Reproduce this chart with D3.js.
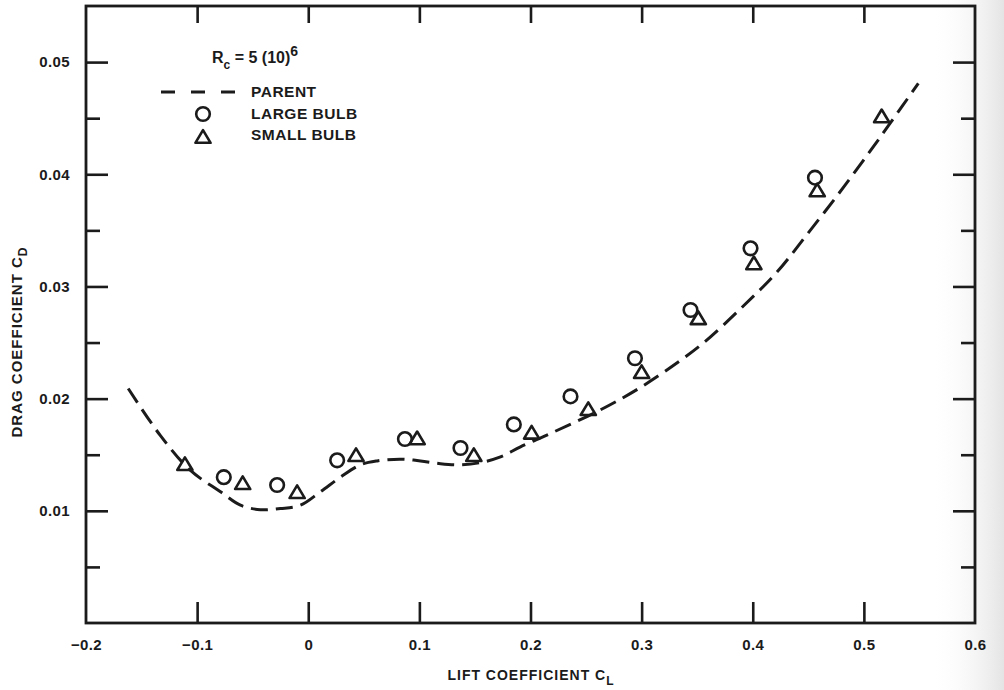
<!DOCTYPE html>
<html>
<head>
<meta charset="utf-8">
<script src="https://cdn.jsdelivr.net/npm/d3@7"></script>
<style>
  html, body { margin: 0; padding: 0; background: #fff; }
  svg { display: block; font-family: "Liberation Sans", Arial, Helvetica, sans-serif; }
  .lbl { font-weight: bold; fill: #1b1b1b; }
</style>
</head>
<body>
<svg id="chart" width="1004" height="690"></svg>
<script>
// Drag polar of the parent hull and the two bulb variants, Rc = 5 (10)^6

// Tick values
const xTickValues = [-0.2, -0.1, 0, 0.1, 0.2, 0.3, 0.4, 0.5, 0.6];
const yMajorTicks = [0.01, 0.02, 0.03, 0.04, 0.05];
const yMinorTicks = [0.005, 0.015, 0.025, 0.035, 0.045];

// Parent curve (lift coefficient, drag coefficient)
const parentCL = [-0.162, -0.133, -0.106, -0.079, -0.061, -0.043, -0.025, -0.007, 0.011, 0.029,
                  0.047, 0.062, 0.083, 0.101, 0.119, 0.137, 0.155, 0.173, 0.191, 0.218,
                  0.263, 0.299, 0.332, 0.356, 0.392, 0.422, 0.447, 0.476, 0.503, 0.524, 0.549];
const parentCD = [0.0209, 0.0167, 0.0136, 0.0117, 0.0105, 0.0101, 0.0102, 0.0105, 0.0117, 0.0130,
                  0.0141, 0.01445, 0.0146, 0.01445, 0.0142, 0.0141, 0.0143, 0.0148, 0.0157, 0.0169,
                  0.0190, 0.0210, 0.0232, 0.0250, 0.0283, 0.0313, 0.0344, 0.0381, 0.0417, 0.0446, 0.0481];

// Large bulb (circles)
const largeCL = [-0.076, -0.028, 0.026, 0.087, 0.137, 0.185, 0.236, 0.294, 0.344, 0.398, 0.456];
const largeCD = [0.0130, 0.0123, 0.0145, 0.0164, 0.0156, 0.0177, 0.0202, 0.0236, 0.0279, 0.0334, 0.0397];

// Small bulb (triangles)
const smallCL = [-0.111, -0.059, -0.010, 0.043, 0.098, 0.149, 0.201, 0.252, 0.300, 0.351, 0.401, 0.458, 0.516];
const smallCD = [0.0142, 0.0125, 0.0117, 0.0150, 0.0165, 0.0150, 0.0170, 0.0191, 0.0224, 0.0272, 0.0321, 0.0386, 0.0452];

const ink = "#1b1b1b";
const svg = d3.select("#chart");

// soft grey shading toward the right edge of the sheet
const defs = svg.append("defs");
const grad = defs.append("linearGradient").attr("id", "edge").attr("x1", 0).attr("x2", 1).attr("y1", 0).attr("y2", 0);
grad.append("stop").attr("offset", "0%").attr("stop-color", "#fff").attr("stop-opacity", 0);
grad.append("stop").attr("offset", "100%").attr("stop-color", "#e4e4e4").attr("stop-opacity", 1);
svg.append("rect").attr("x", 930).attr("y", 0).attr("width", 74).attr("height", 690).attr("fill", "url(#edge)");

const plotL = 86, plotR = 975, plotT = 6, plotB = 623;
const x = d3.scaleLinear().domain([-0.2, 0.6]).range([plotL, plotR]);
const y = d3.scaleLinear().domain([0, 0.055]).range([plotB, plotT]);

const fmtX = d => d === 0 ? "0" : d3.format(".1f")(d);
const fmtY = d3.format(".2f");

function styleAxis(g, showText) {
  g.select(".domain").remove();
  g.selectAll(".tick line").attr("stroke", ink).attr("stroke-width", 2.6);
  g.selectAll(".tick text")
    .attr("class", "lbl")
    .attr("fill", ink)
    .style("font-size", "15px")
    .style("letter-spacing", "0.4px")
    .style("display", showText ? null : "none");
}

// left axis: major ticks with labels, minor ticks inward
svg.append("g").attr("transform", `translate(${plotL},0)`)
  .call(d3.axisLeft(y).tickValues(yMajorTicks).tickSize(-22).tickPadding(16).tickFormat(fmtY))
  .call(g => styleAxis(g, true));
svg.append("g").attr("transform", `translate(${plotL},0)`)
  .call(d3.axisLeft(y).tickValues(yMinorTicks).tickSize(-14).tickFormat(""))
  .call(g => styleAxis(g, false));

// right axis
svg.append("g").attr("transform", `translate(${plotR},0)`)
  .call(d3.axisRight(y).tickValues(yMajorTicks).tickSize(-22).tickFormat(""))
  .call(g => styleAxis(g, false));
svg.append("g").attr("transform", `translate(${plotR},0)`)
  .call(d3.axisRight(y).tickValues(yMinorTicks).tickSize(-14).tickFormat(""))
  .call(g => styleAxis(g, false));

// bottom axis with labels
const gx = svg.append("g").attr("transform", `translate(0,${plotB})`)
  .call(d3.axisBottom(x).tickValues(xTickValues).tickSize(-21).tickPadding(16).tickFormat(fmtX))
  .call(g => styleAxis(g, true));
gx.selectAll(".tick").filter(d => d === -0.2 || d === 0.6).select("line").remove();

// top axis ticks
const gt = svg.append("g").attr("transform", `translate(0,${plotT})`)
  .call(d3.axisTop(x).tickValues(xTickValues).tickSize(-17).tickFormat(""))
  .call(g => styleAxis(g, false));
gt.selectAll(".tick").filter(d => d === -0.2 || d === 0.6).select("line").remove();

// frame
svg.append("rect")
  .attr("x", plotL).attr("y", plotT)
  .attr("width", plotR - plotL).attr("height", plotB - plotT)
  .attr("fill", "none").attr("stroke", ink).attr("stroke-width", 2.8);

// axis titles
const xt = svg.append("text").attr("class", "lbl")
  .attr("x", 531).attr("y", 680).attr("text-anchor", "middle")
  .style("font-size", "14px").style("letter-spacing", "1px");
xt.append("tspan").text("LIFT COEFFICIENT C");
xt.append("tspan").attr("dy", 5).style("font-size", "12px").text("L");

const yt = svg.append("text").attr("class", "lbl")
  .attr("transform", "translate(22,342) rotate(-90)")
  .attr("text-anchor", "middle")
  .style("font-size", "15px").style("letter-spacing", "1px");
yt.append("tspan").text("DRAG COEFFICIENT C");
yt.append("tspan").attr("dy", 5).style("font-size", "12px").text("D");

// parent curve
const parentPts = parentCL.map((c, i) => [c, parentCD[i]]);
svg.append("path")
  .datum(parentPts)
  .attr("d", d3.line().x(d => x(d[0])).y(d => y(d[1])).curve(d3.curveCatmullRom.alpha(0.5)))
  .attr("fill", "none").attr("stroke", ink).attr("stroke-width", 3)
  .attr("stroke-dasharray", "17,8");

// markers
const triPath = "M0,-6.4L7.6,6.3L-7.6,6.3Z";
svg.append("g").selectAll("circle")
  .data(largeCL.map((c, i) => [c, largeCD[i]]))
  .join("circle")
  .attr("cx", d => x(d[0])).attr("cy", d => y(d[1])).attr("r", 6.8)
  .attr("fill", "none").attr("stroke", ink).attr("stroke-width", 2.6);
svg.append("g").selectAll("path")
  .data(smallCL.map((c, i) => [c, smallCD[i]]))
  .join("path")
  .attr("transform", d => `translate(${x(d[0])},${y(d[1])})`)
  .attr("d", triPath)
  .attr("fill", "none").attr("stroke", ink).attr("stroke-width", 2.6).attr("stroke-linejoin", "round");

// legend
const leg = svg.append("g");
const rc = leg.append("text").attr("class", "lbl").attr("x", 212).attr("y", 63).style("font-size", "16px");
rc.append("tspan").text("R");
rc.append("tspan").attr("dy", 6).style("font-size", "12px").text("c");
rc.append("tspan").attr("dy", -6).text(" = 5 (10)");
rc.append("tspan").attr("dy", -7).style("font-size", "14px").text("6");

leg.append("line").attr("x1", 161).attr("x2", 236).attr("y1", 92).attr("y2", 92)
  .attr("stroke", ink).attr("stroke-width", 3).attr("stroke-dasharray", "14,16");
leg.append("circle").attr("cx", 203).attr("cy", 114).attr("r", 6.8)
  .attr("fill", "none").attr("stroke", ink).attr("stroke-width", 2.6);
leg.append("path").attr("transform", "translate(203,136.5)").attr("d", triPath)
  .attr("fill", "none").attr("stroke", ink).attr("stroke-width", 2.6).attr("stroke-linejoin", "round");

const legendLabels = ["PARENT", "LARGE BULB", "SMALL BULB"];
const legendY = [97, 119, 140];
leg.selectAll("text.item").data(legendLabels).join("text")
  .attr("class", "lbl item")
  .attr("x", 251).attr("y", (d, i) => legendY[i])
  .style("font-size", "15.5px").style("letter-spacing", "0.5px")
  .text(d => d);
</script>
</body>
</html>
